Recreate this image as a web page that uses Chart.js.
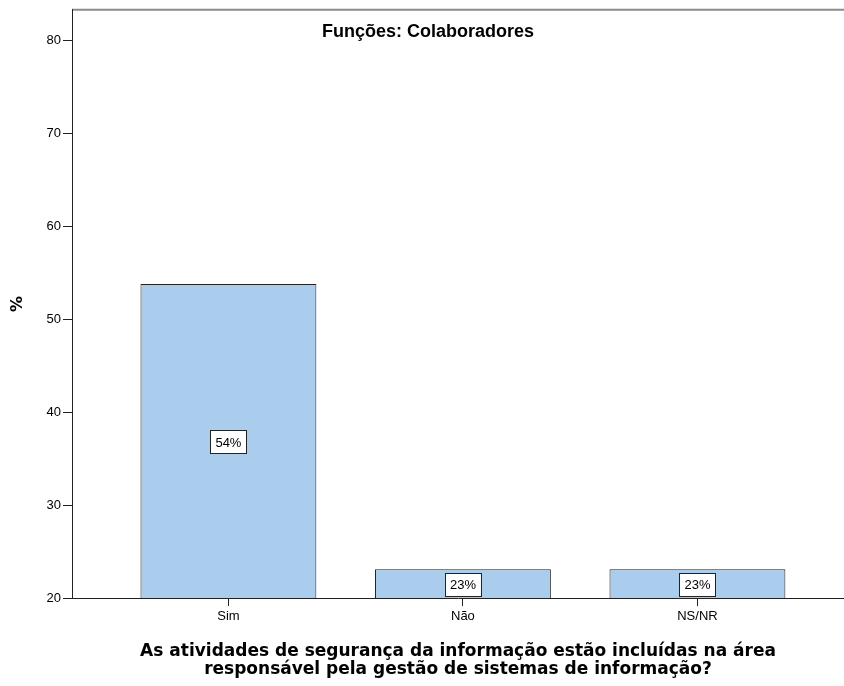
<!DOCTYPE html>
<html lang="pt">
<head>
    <meta charset="UTF-8">
    <title>Funções: Colaboradores</title>
    <script src="https://cdn.jsdelivr.net/npm/chart.js"></script>
    <style>
        html, body { margin: 0; padding: 0; background: #fff; overflow: hidden; }
    </style>
</head>
<body>
    <canvas id="grafico" width="844" height="686"></canvas>

    <script>
        // Dados
        const categorias = ['Sim', 'Não', 'NS/NR'];
        const percentagens = [53.8, 23.1, 23.1];
        const rotulos = ['54%', '23%', '23%'];
        const ticksY = [20, 30, 40, 50, 60, 70, 80];

        const titulo = 'Funções: Colaboradores';
        const tituloX = ['As atividades de segurança da informação estão incluídas na área',
                         'responsável pela gestão de sistemas de informação?'];

        // Título dentro da área do gráfico, linha superior e rótulos das barras
        const extras = {
            id: 'extras',
            beforeDraw(chart) {
                const { ctx, chartArea } = chart;
                ctx.save();
                ctx.strokeStyle = '#8c8c8c';
                ctx.lineWidth = 2;
                ctx.beginPath();
                ctx.moveTo(chartArea.left, chartArea.top);
                ctx.lineTo(chartArea.right, chartArea.top);
                ctx.stroke();
                ctx.restore();
            },
            afterDatasetsDraw(chart) {
                const { ctx, chartArea } = chart;
                ctx.save();
                ctx.font = 'bold 18px "Liberation Sans", Arial, sans-serif';
                ctx.fillStyle = '#000';
                ctx.textAlign = 'center';
                ctx.textBaseline = 'middle';
                ctx.fillText(titulo, chartArea.left + 356, chartArea.top + 22);

                ctx.font = '13px "Liberation Sans", Arial, sans-serif';
                chart.getDatasetMeta(0).data.forEach((bar, i) => {
                    const base = Math.min(bar.base, chartArea.bottom);
                    const cy = (bar.y + base) / 2 + 1;
                    const w = 36, h = 23;
                    ctx.fillStyle = '#fff';
                    ctx.fillRect(bar.x - w / 2, cy - h / 2, w, h);
                    ctx.strokeStyle = '#222';
                    ctx.lineWidth = 1;
                    ctx.strokeRect(Math.round(bar.x - w / 2) + 0.5, Math.round(cy - h / 2) + 0.5, w, h);
                    ctx.fillStyle = '#000';
                    ctx.fillText(rotulos[i], bar.x, cy + 1);
                });
                ctx.restore();
            }
        };

        const ctx = document.getElementById('grafico').getContext('2d');
        new Chart(ctx, {
            type: 'bar',
            data: {
                datasets: [{
                    data: percentagens.map((v, i) => ({ x: i, y: v })),
                    backgroundColor: '#aacdee',
                    borderColor: '#222',
                    borderWidth: 1,
                    categoryPercentage: 1,
                    barPercentage: 0.75
                }]
            },
            options: {
                responsive: false,
                animation: false,
                layout: { padding: { top: 9, right: 0, left: 0, bottom: 0 } },
                plugins: {
                    legend: { display: false },
                    tooltip: { enabled: false }
                },
                scales: {
                    x: {
                        type: 'linear',
                        offset: false,
                        min: -0.667,
                        max: 2.625,
                        afterBuildTicks: s => { s.ticks = categorias.map((c, i) => ({ value: i })); },
                        afterFit: s => { s.height = 88; },
                        ticks: {
                            callback: v => categorias[v],
                            color: '#000',
                            font: { family: '"Liberation Sans", Arial, sans-serif', size: 13 },
                            padding: 3,
                            maxRotation: 0
                        },
                        grid: { offset: false, drawOnChartArea: false, tickLength: 8, tickColor: '#222' },
                        border: { color: '#222' },
                        title: {
                            display: true,
                            text: tituloX,
                            color: '#000',
                            font: { family: '"DejaVu Sans", Verdana, sans-serif', size: 17, weight: 'bold', lineHeight: 18 / 17 },
                            padding: { top: 0, bottom: 7 }
                        }
                    },
                    y: {
                        min: 20,
                        max: 83.3,
                        afterBuildTicks: s => { s.ticks = ticksY.map(v => ({ value: v })); },
                        afterFit: s => { s.width = 72; },
                        ticks: {
                            color: '#000',
                            font: { family: '"Liberation Sans", Arial, sans-serif', size: 13 },
                            padding: 2
                        },
                        grid: { drawOnChartArea: false, tickLength: 9, tickColor: '#222' },
                        border: { color: '#222' },
                        title: {
                            display: true,
                            text: '%',
                            color: '#000',
                            font: { family: '"DejaVu Sans", Verdana, sans-serif', size: 16, weight: 'bold' },
                            padding: { top: 8, bottom: 0 }
                        }
                    }
                }
            },
            plugins: [extras]
        });
    </script>
</body>
</html>
